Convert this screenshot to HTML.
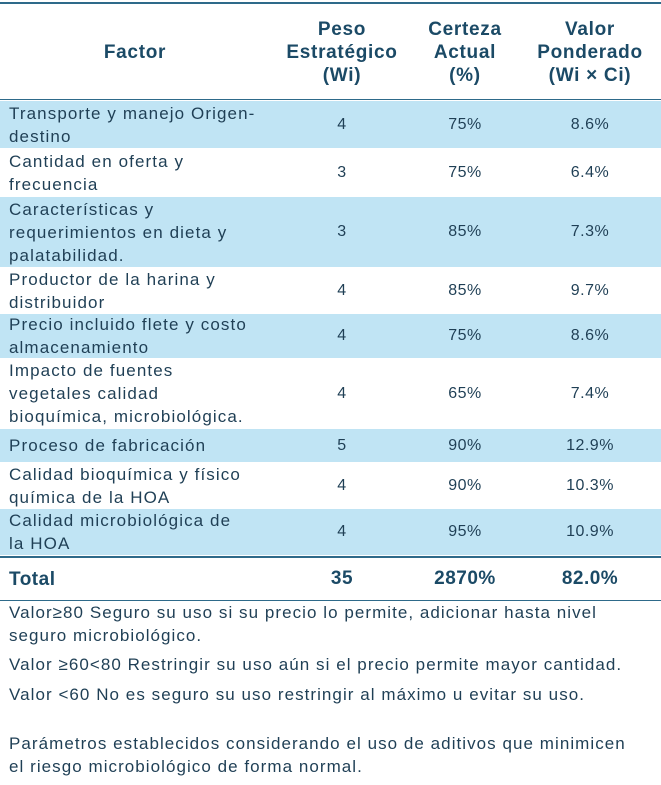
<!DOCTYPE html>
<html><head><meta charset="utf-8"><style>
body{margin:0;width:661px;height:785px;background:#fff;font-family:"Liberation Sans",sans-serif;color:#1f3f55;position:relative;overflow:hidden}
.r{position:absolute;left:0;width:661px}
.b{background:#c0e4f4}
.c{position:absolute;top:0;height:100%;display:flex;align-items:center}
.f{left:9px;width:262px;font-size:17px;line-height:23px;letter-spacing:1.1px;white-space:nowrap}
.n{justify-content:center;font-size:16px;letter-spacing:0.5px}
.p{left:282px;width:120px}.q{left:405px;width:120px}.v{left:530px;width:120px}
.h{font-weight:bold;font-size:19px;color:#1b4a66;text-align:center;line-height:23px;letter-spacing:0.7px}
.ln{position:absolute;left:0;width:661px;height:2px;background:#2e6a8a}
.note{position:absolute;left:9px;font-size:17px;line-height:23px;width:652px;letter-spacing:1.05px;white-space:nowrap}
</style></head><body>
<div class="ln" style="top:2px"></div>
<div class="r" style="top:4px;height:96px">
<div class="c h" style="left:0;width:270px;justify-content:center">Factor</div>
<div class="c h p n">Peso<br>Estratégico<br>(Wi)</div>
<div class="c h q n">Certeza<br>Actual<br>(%)</div>
<div class="c h v n">Valor<br>Ponderado<br>(Wi × Ci)</div>
</div>
<div class="ln" style="top:99px;height:1px"></div>
<div id="rows"></div>
<div class="ln" style="top:556px"></div>
<div class="r" style="top:558px;height:42px">
<div class="c f" style="font-weight:bold;font-size:19px;color:#1b4a66;letter-spacing:0.5px">Total</div>
<div class="c p n" style="font-weight:bold;font-size:19px;color:#1b4a66">35</div>
<div class="c q n" style="font-weight:bold;font-size:19px;color:#1b4a66">2870%</div>
<div class="c v n" style="font-weight:bold;font-size:19px;color:#1b4a66">82.0%</div>
</div>
<div class="ln" style="top:600px;height:1px"></div>
<div class="note" style="top:601px">Valor≥80 Seguro su uso si su precio lo permite, adicionar hasta nivel<br>seguro microbiológico.</div>
<div class="note" style="top:653px">Valor ≥60&lt;80 Restringir su uso aún si el precio permite mayor cantidad.</div>
<div class="note" style="top:683px">Valor &lt;60 No es seguro su uso restringir al máximo u evitar su uso.</div>
<div class="note" style="top:732px">Parámetros establecidos considerando el uso de aditivos que minimicen<br>el riesgo microbiológico de forma normal.</div>
<script>
const factors=["Transporte y manejo Origen-<br>destino","Cantidad en oferta y<br>frecuencia","Características y<br>requerimientos en dieta y<br>palatabilidad.","Productor de la harina y<br>distribuidor","Precio incluido flete y costo<br>almacenamiento","Impacto de fuentes<br>vegetales calidad<br>bioquímica, microbiológica.","Proceso de fabricación","Calidad bioquímica y físico<br>química de la HOA","Calidad microbiológica de<br>la HOA"];
const peso=[4,3,3,4,4,4,5,4,4];
const certeza=["75%","75%","85%","85%","75%","65%","90%","90%","95%"];
const valor=["8.6%","6.4%","7.3%","9.7%","8.6%","7.4%","12.9%","10.3%","10.9%"];
const tops=[101,149,197,268,314,359,429,463,509,556];
const host=document.getElementById('rows');
factors.forEach((f,i)=>{
const r=document.createElement('div');
r.className='r'+(i%2===0?' b':'');
r.style.top=tops[i]+'px';r.style.height=(tops[i+1]-tops[i]-1)+'px';


r.innerHTML='<div class="c f">'+f+'</div><div class="c p n">'+peso[i]+'</div><div class="c q n">'+certeza[i]+'</div><div class="c v n">'+valor[i]+'</div>';
host.appendChild(r);
});
</script>
</body></html>
